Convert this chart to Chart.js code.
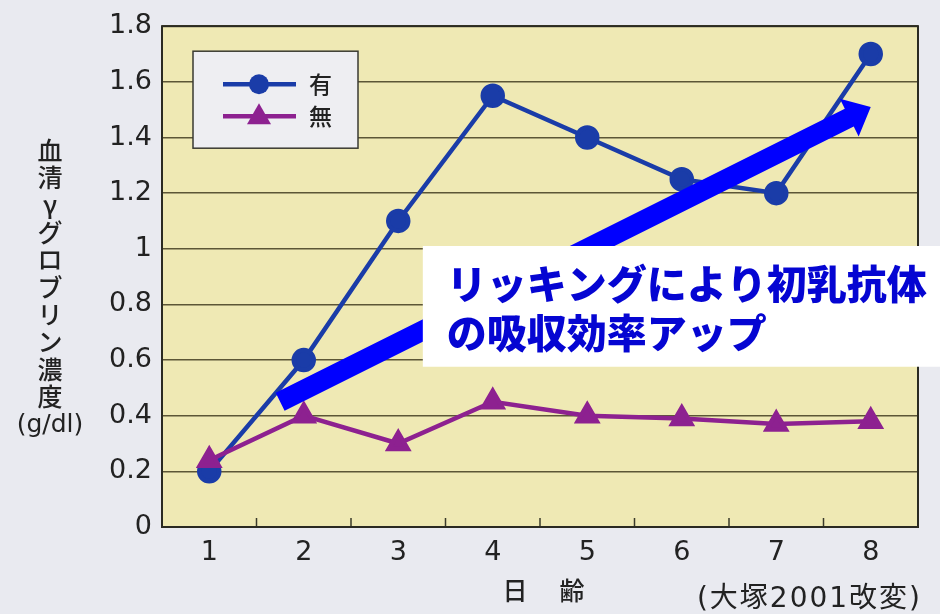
<!DOCTYPE html>
<html>
<head>
<meta charset="utf-8">
<script src="https://cdn.jsdelivr.net/npm/chart.js@4.4.0/dist/chart.umd.min.js"></script>
<style>
  body { margin: 0; background: #e9eaf0; }
  #wrap { width: 940px; height: 614px; position: relative; }
</style>
</head>
<body>
<div id="wrap"><canvas id="chart"></canvas></div>
<script>
// 日齢ごとの血清γグロブリン濃度 (g/dl)
const days = ['1', '2', '3', '4', '5', '6', '7', '8'];
const withLicking = [0.2, 0.6, 1.1, 1.55, 1.4, 1.25, 1.2, 1.7];      // 有
const withoutLicking = [0.24, 0.4, 0.3, 0.45, 0.4, 0.39, 0.37, 0.38]; // 無
const seriesNames = ['有', '無'];
const yTitleChars = ['血', '清', 'γ', 'グ', 'ロ', 'ブ', 'リ', 'ン', '濃', '度'];
const calloutLines = ['リッキングにより初乳抗体', 'の吸収効率アップ'];

const BLUE = '#1a3ca8';
const PURPLE = '#8d2190';

// plot background, border, inner ticks, texts, arrow, callout
const decor = {
    id: 'decor',
    beforeDraw(chart) {
        const { ctx, chartArea: a } = chart;
        ctx.save();
        ctx.fillStyle = '#efe9b4';
        ctx.fillRect(a.left, a.top, a.right - a.left, a.bottom - a.top);
        ctx.restore();
    },
    afterDraw(chart) {
        const { ctx, chartArea: a, scales } = chart;
        const x = scales.x, y = scales.y;
        ctx.save();

        // inner ticks between categories
        ctx.strokeStyle = '#3a3a2a';
        ctx.lineWidth = 1.5;
        for (let i = 0; i < days.length - 1; i++) {
            const px = x.getPixelForValue(i + 0.5);
            ctx.beginPath();
            ctx.moveTo(px, a.bottom);
            ctx.lineTo(px, a.bottom - 9);
            ctx.stroke();
        }

        // plot border
        ctx.strokeStyle = '#2a2a22';
        ctx.lineWidth = 2;
        ctx.strokeRect(a.left, a.top, a.right - a.left, a.bottom - a.top);

        // legend
        const lx = a.left + 31, ly = a.top + 25;
        ctx.fillStyle = '#eeeef2';
        ctx.fillRect(lx, ly, 165, 97);
        ctx.strokeStyle = '#3a3a32';
        ctx.lineWidth = 1.5;
        ctx.strokeRect(lx, ly, 165, 97);
        const rows = [
            { c: BLUE, style: 'circle', yy: ly + 33 },
            { c: PURPLE, style: 'triangle', yy: ly + 65 }
        ];
        rows.forEach((r, i) => {
            ctx.strokeStyle = r.c;
            ctx.lineWidth = 4.5;
            ctx.beginPath();
            ctx.moveTo(lx + 30, r.yy);
            ctx.lineTo(lx + 103, r.yy);
            ctx.stroke();
            ctx.fillStyle = r.c;
            ctx.beginPath();
            if (r.style === 'circle') {
                ctx.arc(lx + 66, r.yy, 10, 0, Math.PI * 2);
            } else {
                ctx.moveTo(lx + 66, r.yy - 13);
                ctx.lineTo(lx + 78, r.yy + 8);
                ctx.lineTo(lx + 54, r.yy + 8);
                ctx.closePath();
            }
            ctx.fill();
            ctx.fillStyle = '#222';
            ctx.font = '500 23px "Noto Sans CJK JP"';
            ctx.textAlign = 'left';
            ctx.textBaseline = 'middle';
            ctx.fillText(seriesNames[i], lx + 116, r.yy);
        });

        // big arrow
        const sx = x.getPixelForValue(0.75), sy = y.getPixelForValue(0.45);
        const ex = x.getPixelForValue(7.0), ey = y.getPixelForValue(1.51);
        const len = Math.hypot(ex - sx, ey - sy);
        const ux = (ex - sx) / len, uy = (ey - sy) / len;
        const nx = -uy, ny = ux;
        const hw = 10, headLen = 24, headW = 21;
        const bx = ex - ux * headLen, by = ey - uy * headLen;
        ctx.fillStyle = '#0000ff';
        ctx.beginPath();
        ctx.moveTo(sx + nx * hw, sy + ny * hw);
        ctx.lineTo(bx + nx * hw, by + ny * hw);
        ctx.lineTo(bx + nx * headW, by + ny * headW);
        ctx.lineTo(ex, ey);
        ctx.lineTo(bx - nx * headW, by - ny * headW);
        ctx.lineTo(bx - nx * hw, by - ny * hw);
        ctx.lineTo(sx - nx * hw, sy - ny * hw);
        ctx.closePath();
        ctx.fill();

        // callout box
        const bxL = x.getPixelForValue(2.26);
        const byT = y.getPixelForValue(1.01), byB = y.getPixelForValue(0.576);
        ctx.fillStyle = '#ffffff';
        ctx.fillRect(bxL, byT, chart.width - bxL, byB - byT);
        ctx.fillStyle = '#0505d2';
        ctx.font = '900 40px "Noto Sans CJK JP"';
        ctx.textAlign = 'left';
        ctx.textBaseline = 'middle';
        ctx.fillText(calloutLines[0], bxL + 24, byT + 38);
        ctx.fillText(calloutLines[1], bxL + 24, byT + 87);

        // y title (vertical)
        ctx.fillStyle = '#222';
        ctx.textAlign = 'center';
        ctx.font = '500 25px "Noto Sans CJK JP"';
        yTitleChars.forEach((ch, i) => ctx.fillText(ch, 50, 150 + i * 27.4));
        ctx.font = '25px "DejaVu Sans"';
        ctx.fillText('(g/dl)', 50, 425);

        // x title
        ctx.font = '500 25px "Noto Sans CJK JP"';
        ctx.fillText('日', 515, 590);
        ctx.fillText('齢', 572, 590);

        // source
        ctx.textAlign = 'right';
        ctx.letterSpacing = '2px';
        ctx.font = '28px "DejaVu Sans", "Noto Sans CJK JP"';
        ctx.fillText('(大塚2001改変)', 922, 600);
        ctx.letterSpacing = '0px';

        ctx.restore();
    }
};

new Chart(document.getElementById('chart'), {
    type: 'line',
    data: {
        labels: days,
        datasets: [{
            label: seriesNames[1],
            data: withoutLicking,
            borderColor: PURPLE,
            backgroundColor: PURPLE,
            borderWidth: 4.5,
            pointStyle: 'triangle',
            pointRadius: 11,
            order: 0
        }, {
            label: seriesNames[0],
            data: withLicking,
            borderColor: BLUE,
            backgroundColor: BLUE,
            borderWidth: 4.5,
            pointStyle: 'circle',
            pointRadius: 10,
            order: 1
        }]
    },
    options: {
        responsive: true,
        maintainAspectRatio: false,
        animation: false,
        layout: { padding: { top: 24, right: 22, left: 0, bottom: 0 } },
        plugins: {
            legend: { display: false },
            tooltip: { enabled: false }
        },
        scales: {
            x: {
                offset: true,
                grid: { display: false },
                border: { display: false },
                ticks: {
                    color: '#222',
                    font: { family: 'DejaVu Sans', size: 27 },
                    padding: 2,
                    maxRotation: 0
                },
                afterFit: s => { s.height = 87; }
            },
            y: {
                min: 0,
                max: 1.8,
                grid: { color: '#5c5636', lineWidth: 1.5, drawTicks: false },
                border: { display: false },
                ticks: {
                    stepSize: 0.2,
                    color: '#222',
                    font: { family: 'DejaVu Sans', size: 27 },
                    padding: 10,
                    callback: v => String(+v.toFixed(1))
                },
                afterFit: s => { s.width = 162; }
            }
        }
    },
    plugins: [decor]
});
</script>
</body>
</html>
